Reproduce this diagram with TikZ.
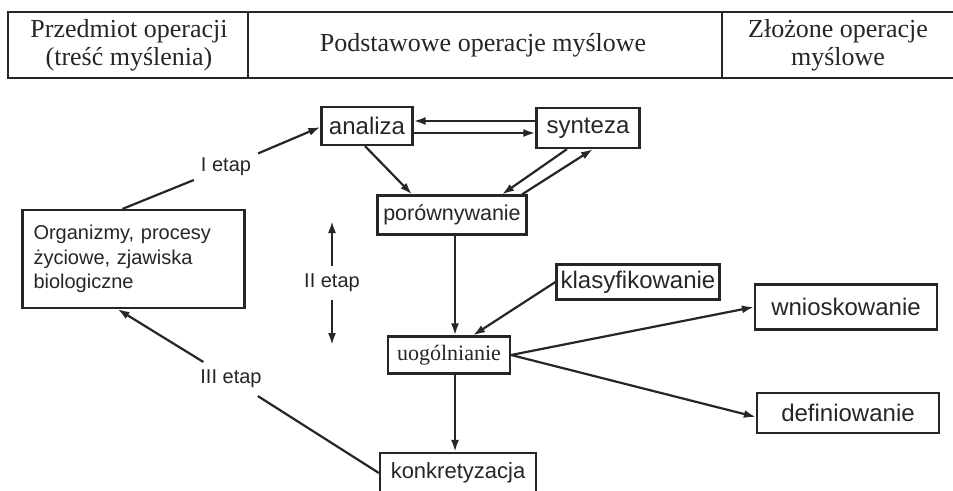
\documentclass[tikz,border=0pt]{standalone}
\usepackage{fontspec}
\setmainfont{Liberation Serif}
\setsansfont{Liberation Sans}
\usetikzlibrary{arrows.meta}
\definecolor{ink}{HTML}{262626}

\begin{document}
\begin{tikzpicture}[x=1pt,y=-1pt,>={Latex[length=12pt,width=8pt]},line width=2.2pt,color=ink]
    \tikzstyle{every node}=[font=\fontsize{24}{28}\sffamily]
    \tikzstyle{opbox}=[draw,line width=2.2pt,inner sep=2pt,minimum height=38pt]
    \tikzstyle{etap}=[font=\fontsize{20}{24}\sffamily,inner xsep=6pt,inner ysep=7pt]
    \tikzstyle{head}=[font=\fontsize{26}{28}\rmfamily,align=center]

    \useasboundingbox (0,0) rectangle (953,490);
    \fill[white] (0,0) rectangle (953,490);

    \draw (953,12) -- (8,12) -- (8,78) -- (953,78);
    \draw (248,12) -- (248,78);
    \draw (722,12) -- (722,78);

    \node[head] (przedmiot) at (129,45) {Przedmiot operacji \\ (treść myślenia)};
    \node[head] (podstawowe) at (483,45) {Podstawowe operacje myślowe};
    \node[head] (zlozone) at (838,45) {Złożone operacje \\ myślowe};

    \node[opbox,minimum width=91pt] (analiza) at (367,126) {analiza};
    \node[opbox,minimum width=103pt,minimum height=40pt] (synteza) at (588,128) {synteza};
    \node[opbox,minimum width=149pt,minimum height=39pt,font=\fontsize{21.5}{26}\sffamily] (porownywanie) at (452,215) {porównywanie};
    \node[opbox,text width=200pt,inner xsep=11pt,minimum height=98pt,align=left,
        font=\fontsize{20}{24.5}\sffamily] (organizmy) at (133.5,259)
        {Organizmy, procesy \\ życiowe, zjawiska \\ biologiczne};
    \node[opbox,minimum width=163pt,minimum height=35pt] (klasyfikowanie) at (638,282) {klasyfikowanie};
    \node[opbox,minimum width=182pt,minimum height=45pt] (wnioskowanie) at (846,307) {wnioskowanie};
    \node[opbox,minimum width=122pt,minimum height=37pt,font=\fontsize{22}{26}\rmfamily] (uogolnianie) at (449,355) {uogólnianie};
    \node[opbox,minimum width=182pt,minimum height=40pt] (definiowanie) at (848,413) {definiowanie};
    \node[opbox,minimum width=156pt,minimum height=40pt,font=\fontsize{22}{26}\sffamily] (konkretyzacja) at (458,473) {konkretyzacja};

    \node[etap] (etapI) at (226,167) {I etap};
    \node[etap] (etapII) at (332,283) {II etap};
    \node[etap] (etapIII) at (231,379) {III etap};
    \coordinate (etapIIgora) at (332,221);
    \coordinate (etapIIdol) at (332,345);

    \draw ([xshift=-11pt]organizmy.north) -- (etapI);
    \draw[->] (etapI) -- ([yshift=-1pt]analiza.west);
    \draw[<-] ([yshift=5pt]analiza.east) -- ([yshift=5pt]analiza.east -| synteza.west);
    \draw[->] ([yshift=-7pt]analiza.east) -- ([yshift=-7pt]analiza.east -| synteza.west);
    \draw[->] ([xshift=-2pt]analiza.south) -- ([xshift=-40pt]porownywanie.north);
    \draw[->] ([xshift=-21pt]synteza.south) -- ([xshift=50pt]porownywanie.north);
    \draw[->] ([xshift=70pt]porownywanie.north) -- ([xshift=5pt]synteza.south);
    \draw[->] ([xshift=3pt]porownywanie.south) -- ([xshift=3pt]porownywanie.south |- uogolnianie.north);
    \draw[->] (klasyfikowanie.west) -- ([xshift=24pt]uogolnianie.north);
    \draw[->] (uogolnianie.east) -- (wnioskowanie.west);
    \draw[->] (uogolnianie.east) -- ([yshift=-4pt]definiowanie.west);
    \draw[->] ([xshift=6pt]uogolnianie.south) -- ([xshift=6pt]uogolnianie.south |- konkretyzacja.north);
    \draw (konkretyzacja.west) -- (etapIII);
    \draw[->] (etapIII) -- ([xshift=-16pt]organizmy.south);
    \draw[->] (etapII) -- (etapIIgora);
    \draw[->] (etapII) -- (etapIIdol);
\end{tikzpicture}
\end{document}
